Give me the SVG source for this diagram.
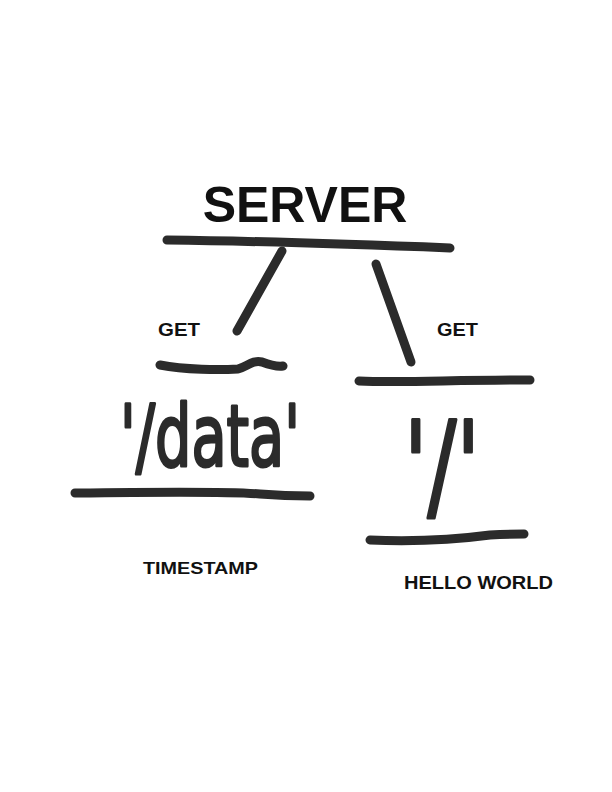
<svg xmlns="http://www.w3.org/2000/svg" width="612" height="792" viewBox="0 0 612 792">
<style>
.stroke{fill:none;stroke:#2b2b2b;stroke-width:9;stroke-linecap:round;stroke-linejoin:round}
.lbl{font-family:"Liberation Sans",Arial,sans-serif;font-weight:bold;fill:#111}
.hand{font-family:"DejaVu Sans","Liberation Sans",sans-serif;fill:#2b2b2b;stroke:#2b2b2b;stroke-width:3;stroke-linejoin:round;stroke-linecap:round}
</style>
<rect width="612" height="792" fill="#fff"/>
<g id="server">
<text class="lbl" x="305" y="222" font-size="50" text-anchor="middle">SERVER</text>
<path class="stroke" d="M167,240 C250,241 350,244 450,248"/>
</g>
<g id="connectors">
<path class="stroke" d="M282,251 L237,331"/>
<path class="stroke" d="M376,264 L411,362"/>
</g>
<g id="get-left"><text class="lbl" x="158" y="336" font-size="18" textLength="42" lengthAdjust="spacingAndGlyphs">GET</text></g>
<g id="get-right"><text class="lbl" x="437" y="336" font-size="18" textLength="41" lengthAdjust="spacingAndGlyphs">GET</text></g>
<g id="data-node">
<path class="stroke" d="M160,365 C185,370 220,370 238,369 C248,366 252,360 262,362 C270,365 276,367 283,366"/>
<text class="hand" x="120" y="466" font-size="86" textLength="180" lengthAdjust="spacingAndGlyphs">'/data'</text>
<path class="stroke" d="M75,493 C150,492 230,491 260,494 C285,496 300,496 310,496"/>
</g>
<g id="root-node">
<path class="stroke" d="M359,381 C400,383 450,380 530,380"/>
<text class="hand" x="404" y="507" font-size="120" textLength="76" lengthAdjust="spacingAndGlyphs">'/'</text>
<path class="stroke" d="M370,540 C420,542 460,539 490,535 C505,534 515,534 524,534"/>
</g>
<g id="timestamp"><text class="lbl" x="143" y="574" font-size="17" textLength="115" lengthAdjust="spacingAndGlyphs">TIMESTAMP</text></g>
<g id="hello"><text class="lbl" x="404" y="589" font-size="18" textLength="149" lengthAdjust="spacingAndGlyphs">HELLO WORLD</text></g>
</svg>
